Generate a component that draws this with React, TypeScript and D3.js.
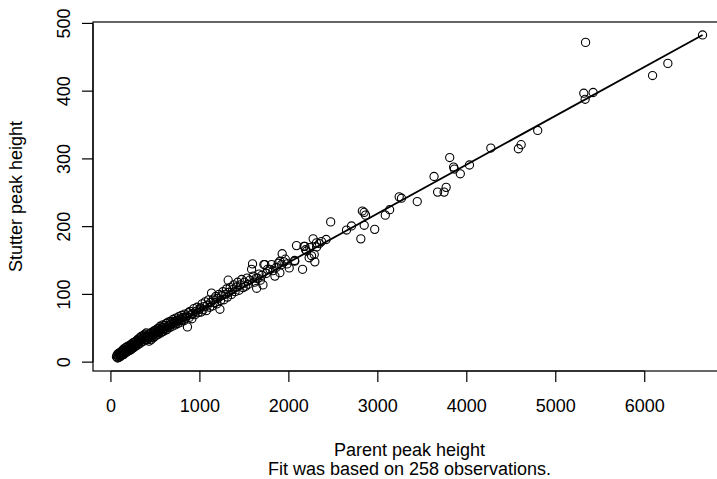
import React from "react";
import * as d3 from "d3";

// Parent peak height (x) and stutter peak height (y)
const parentX: number[] = [
  // 60-400
  62, 70, 75, 80, 85, 88, 92, 95, 100, 104, 108, 112, 115, 120, 124, 128, 130, 135, 140, 142,
  148, 150, 155, 158, 162, 165, 170, 175, 178, 182, 186, 190, 195, 200, 204, 210, 214, 218, 222, 228,
  232, 238, 242, 246, 252, 258, 262, 268, 272, 278, 284, 290, 296, 300, 306, 312, 318, 324, 330, 336,
  342, 348, 354, 360, 366, 372, 378, 386, 392, 398,
  // 400-1000
  404, 410, 416, 422, 428, 434, 440, 446, 452, 458, 464, 470, 476, 482, 488, 494, 500, 506, 512, 518,
  524, 530, 536, 542, 548, 554, 560, 566, 572, 578, 584, 590, 598, 604, 612, 620, 628, 636, 642, 650,
  658, 666, 674, 682, 690, 698, 706, 714, 722, 730, 738, 746, 754, 762, 770, 778, 786, 794, 802, 810,
  820, 830, 840, 850, 860, 870, 880, 890, 900, 910, 920, 932, 944, 956, 968, 980, 992,
  // 1000-2000
  1005, 1015, 1025, 1035, 1048, 1060, 1072, 1085, 1098, 1110, 1122, 1131, 1140, 1152, 1165, 1178, 1190, 1202, 1215, 1225,
  1232, 1245, 1258, 1270, 1285, 1298, 1310, 1318, 1325, 1340, 1355, 1368, 1380, 1395, 1410, 1425, 1440, 1455, 1470, 1485,
  1500, 1515, 1530, 1545, 1560, 1581, 1592, 1600, 1615, 1633, 1638, 1650, 1665, 1680, 1695, 1709, 1719, 1730, 1745, 1760,
  1787, 1805, 1820, 1843, 1860, 1880, 1899, 1899, 1918, 1925, 1945, 1960, 1980,
  // 2000-3000
  2004, 2064, 2067, 2086, 2154, 2170, 2180, 2188, 2199, 2228, 2236, 2255, 2273, 2285, 2292, 2311, 2312, 2343, 2367, 2419,
  2470, 2648, 2704, 2809, 2826, 2846, 2847, 2862, 2965,
  // >3000
  3084, 3133, 3240, 3266, 3443, 3632, 3672, 3745, 3768, 3808, 3852, 3860, 3927, 4030, 4270, 4580, 4611, 4797, 5315, 5330,
  5335, 5420, 6088, 6260, 6650,
];

const stutterY: number[] = [
  8, 11, 6, 9, 13, 7, 12, 10, 14, 8, 12, 15, 10, 14, 11, 17, 12, 15, 19, 11,
  14, 18, 13, 16, 21, 14, 17, 22, 15, 19, 23, 16, 20, 24, 17, 21, 25, 18, 22, 26,
  19, 23, 28, 21, 24, 29, 22, 26, 30, 24, 27, 32, 25, 29, 34, 27, 31, 36, 28, 33,
  38, 30, 35, 39, 31, 36, 41, 33, 38, 43,
  37, 33, 40, 35, 31, 38, 42, 36, 33, 44, 39, 41, 36, 46, 42, 38, 47, 43, 40, 49,
  45, 41, 50, 44, 47, 53, 43, 48, 51, 45, 55, 49, 46, 54, 50, 57, 48, 52, 59, 54,
  51, 60, 55, 58, 53, 63, 57, 60, 55, 65, 59, 62, 57, 67, 61, 64, 59, 69, 63, 66,
  61, 71, 65, 68, 52, 73, 66, 75, 70, 64, 72, 79, 70, 75, 81, 73, 78,
  80, 74, 86, 77, 82, 89, 76, 84, 92, 81, 88, 102, 83, 93, 88, 97, 86, 94, 100, 78,
  91, 98, 104, 92, 100, 108, 96, 121, 103, 110, 100, 107, 114, 104, 111, 118, 106, 114, 122, 110,
  118, 112, 124, 115, 121, 137, 145, 127, 118, 124, 109, 124, 130, 121, 128, 114, 144, 144, 131, 137,
  137, 144, 135, 127, 140, 146, 132, 149, 144, 160, 148, 152, 145,
  139, 150, 149, 172, 137, 171, 171, 166, 164, 154, 169, 157, 182, 159, 148, 176, 170, 175, 178, 181,
  207, 195, 201, 182, 223, 221, 202, 217, 196,
  217, 225, 244, 242, 237, 274, 251, 251, 258, 302, 288, 285, 278, 291, 316, 315, 321, 342, 397, 388,
  472, 398, 423, 441, 483,
];

// Fitted line end points
const fitX: number[] = [62, 6650];
const fitY: number[] = [7.5, 483];

const xTicks: number[] = [0, 1000, 2000, 3000, 4000, 5000, 6000];
const yTicks: number[] = [0, 100, 200, 300, 400, 500];

const xTitle = "Parent peak height";
const yTitle = "Stutter peak height";
const subTitle = "Fit was based on 258 observations.";

export default function App() {
  const W = 717;
  const H = 479;
  const left = 93;
  const right = 726;
  const top = 22;
  const bottom = 371;

  const xmin = d3.min(parentX)!;
  const xmax = d3.max(parentX)!;
  const ymin = d3.min(stutterY)!;
  const ymax = d3.max(stutterY)!;
  const xpad = (xmax - xmin) * 0.04;
  const ypad = (ymax - ymin) * 0.04;

  const x = d3.scaleLinear().domain([xmin - xpad, xmax + xpad]).range([left, right]);
  const y = d3.scaleLinear().domain([ymin - ypad, ymax + ypad]).range([bottom, top]);

  const line = d3
    .line<number>()
    .x((_, i) => x(fitX[i]))
    .y((_, i) => y(fitY[i]));

  const font = "'Liberation Sans', Arial, Helvetica, sans-serif";
  const fs = 18;
  const tick = 11;

  return (
    <svg
      width={W}
      height={H}
      style={{ position: "absolute", left: 0, top: 0, background: "#fff" }}
      fontFamily={font}
    >
      <rect x={0} y={0} width={W} height={H} fill="#fff" />
      {/* box */}
      <rect x={left} y={top} width={right - left} height={bottom - top} fill="none" stroke="#000" strokeWidth={1.2} />
      {/* x axis */}
      <line x1={x(xTicks[0])} x2={x(xTicks[xTicks.length - 1])} y1={bottom} y2={bottom} stroke="#000" strokeWidth={1.2} />
      {xTicks.map((t) => (
        <g key={"xt" + t}>
          <line x1={x(t)} x2={x(t)} y1={bottom} y2={bottom + tick} stroke="#000" strokeWidth={1.2} />
          <text x={x(t)} y={411.5} fontSize={fs} textAnchor="middle" fill="#000">
            {t}
          </text>
        </g>
      ))}
      {/* y axis */}
      <line x1={left} x2={left} y1={y(yTicks[0])} y2={y(yTicks[yTicks.length - 1])} stroke="#000" strokeWidth={1.2} />
      {yTicks.map((t) => (
        <g key={"yt" + t}>
          <line x1={left - tick} x2={left} y1={y(t)} y2={y(t)} stroke="#000" strokeWidth={1.2} />
          <text
            transform={`translate(70,${y(t)}) rotate(-90)`}
            fontSize={fs}
            textAnchor="middle"
            fill="#000"
          >
            {t}
          </text>
        </g>
      ))}
      {/* titles */}
      <text x={(left + right) / 2} y={456} fontSize={fs} textAnchor="middle" fill="#000">
        {xTitle}
      </text>
      <text x={(left + right) / 2} y={475} fontSize={fs} textAnchor="middle" fill="#000">
        {subTitle}
      </text>
      <text
        transform={`translate(22,${(top + bottom) / 2}) rotate(-90)`}
        fontSize={fs}
        textAnchor="middle"
        fill="#000"
      >
        {yTitle}
      </text>
      {/* points */}
      <g fill="none" stroke="#000" strokeWidth={1.1}>
        {parentX.map((px, i) => (
          <circle key={i} cx={x(px)} cy={y(stutterY[i])} r={4.1} />
        ))}
      </g>
      {/* fit line */}
      <path d={line(fitX) || ""} fill="none" stroke="#000" strokeWidth={1.8} />
    </svg>
  );
}
